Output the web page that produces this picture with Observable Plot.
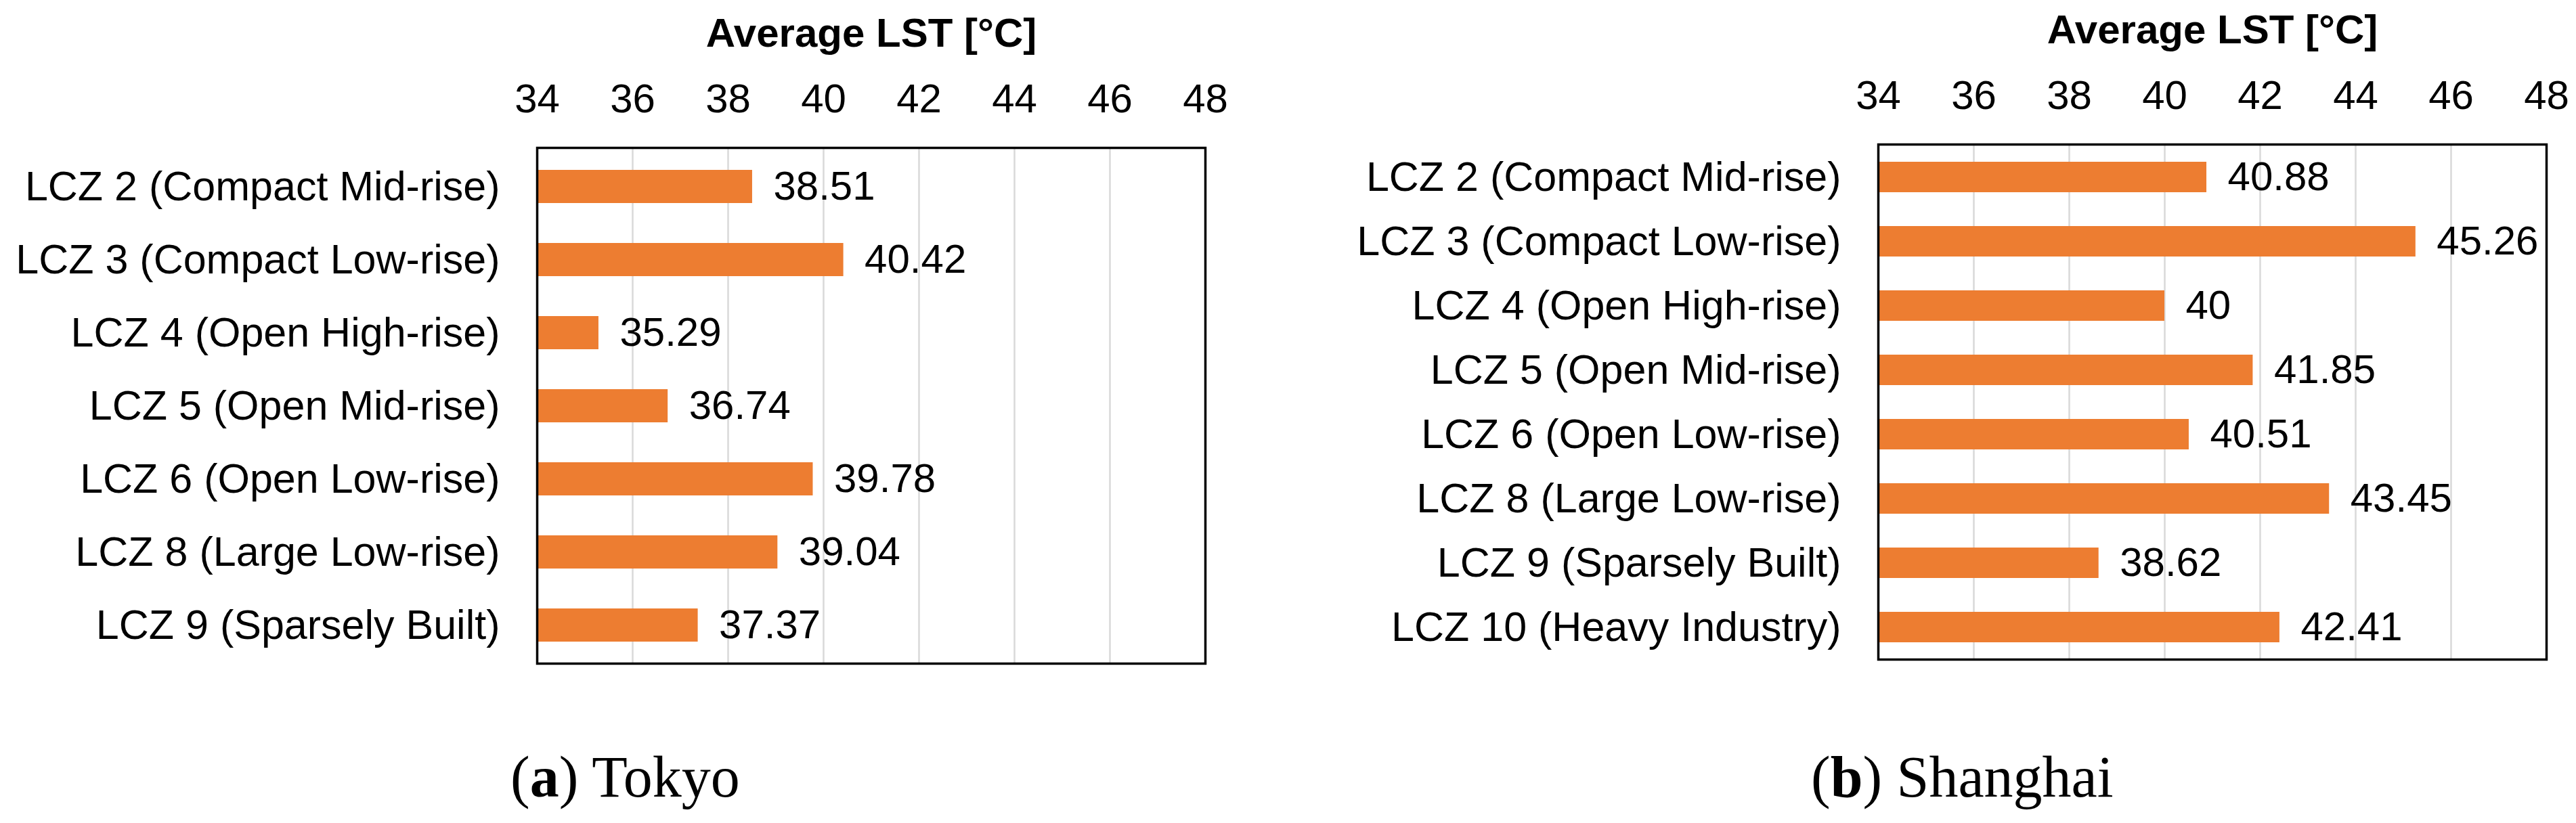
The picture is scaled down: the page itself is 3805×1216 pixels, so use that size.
<!DOCTYPE html>
<html>
<head>
<meta charset="utf-8">
<script src="https://cdn.jsdelivr.net/npm/d3@7"></script>
<script src="https://cdn.jsdelivr.net/npm/@observablehq/plot@0.6"></script>
<style>
  html, body { margin: 0; padding: 0; background: #fff; }
  #root { position: relative; width: 3805px; height: 1216px; overflow: hidden; background: #fff; }
  .panel { position: absolute; top: 0; }
  .caption { position: absolute; font-family: "Liberation Serif", "Times New Roman", serif; font-size: 86px; line-height: 86px; color: #000; white-space: nowrap; }
</style>
</head>
<body>
<div id="root">
  <div id="tokyo" class="panel" style="left:0px"></div>
  <div id="shanghai" class="panel" style="left:1900px"></div>
  <div class="caption" style="left:754px; top:1105px">(<b>a</b>) Tokyo</div>
  <div class="caption" style="left:2675px; top:1105px">(<b>b</b>) Shanghai</div>
</div>
<script>
const axisTitle = "Average LST [°C]";
const xTicks = [34, 36, 38, 40, 42, 44, 46, 48];
const xMin = 34;
const xMax = 48;

const tokyoZones = [
  "LCZ 2 (Compact Mid-rise)",
  "LCZ 3 (Compact Low-rise)",
  "LCZ 4 (Open High-rise)",
  "LCZ 5 (Open Mid-rise)",
  "LCZ 6 (Open Low-rise)",
  "LCZ 8 (Large Low-rise)",
  "LCZ 9 (Sparsely Built)"
];
const tokyoLST = [38.51, 40.42, 35.29, 36.74, 39.78, 39.04, 37.37];

const shanghaiZones = [
  "LCZ 2 (Compact Mid-rise)",
  "LCZ 3 (Compact Low-rise)",
  "LCZ 4 (Open High-rise)",
  "LCZ 5 (Open Mid-rise)",
  "LCZ 6 (Open Low-rise)",
  "LCZ 8 (Large Low-rise)",
  "LCZ 9 (Sparsely Built)",
  "LCZ 10 (Heavy Industry)"
];
const shanghaiLST = [40.88, 45.26, 40, 41.85, 40.51, 43.45, 38.62, 42.41];

const barColor = "#ED7D31";

function makeChart(zones, values, cfg) {
  const data = zones.map((z, i) => ({zone: z, value: values[i]}));
  return Plot.plot({
    width: cfg.width,
    height: cfg.height,
    marginLeft: cfg.marginLeft,
    marginRight: cfg.marginRight,
    marginTop: cfg.marginTop,
    marginBottom: cfg.marginBottom,
    style: {fontFamily: "'Liberation Sans', Arial, sans-serif", background: "#fff", color: "#000", overflow: "visible"},
    x: {domain: [xMin, xMax], label: null},
    y: {domain: zones, paddingInner: cfg.padInner, paddingOuter: cfg.padInner / 2, label: null},
    marks: [
      Plot.gridX(xTicks, {stroke: "#d9d9d9", strokeOpacity: 1, strokeWidth: 2.5}),
      Plot.barX(data, {y: "zone", x1: xMin, x2: "value", fill: barColor}),
      Plot.text(data, {y: "zone", x: "value", text: d => String(d.value), textAnchor: "start", dx: 31, fontSize: 60, fill: "#000"}),
      Plot.axisX({anchor: "top", ticks: xTicks, tickSize: 0, tickPadding: 53, fontSize: 60, label: null, tickFormat: d => String(d)}),
      Plot.axisY({anchor: "left", tickSize: 0, tickPadding: 55, fontSize: 61, label: null}),
      Plot.text([axisTitle], {frameAnchor: "top", lineAnchor: "bottom", dy: -150, fontSize: 60, fontWeight: "bold", fill: "#000"}),
      Plot.frame({stroke: "#000", strokeWidth: 3.5})
    ]
  });
}

document.getElementById("tokyo").append(makeChart(tokyoZones, tokyoLST, {
  width: 1900, height: 1050, marginLeft: 793, marginRight: 120, marginTop: 218, marginBottom: 70, padInner: 0.55
}));
document.getElementById("shanghai").append(makeChart(shanghaiZones, shanghaiLST, {
  width: 1905, height: 1050, marginLeft: 874, marginRight: 44, marginTop: 213, marginBottom: 76, padInner: 0.53
}));
</script>
</body>
</html>
